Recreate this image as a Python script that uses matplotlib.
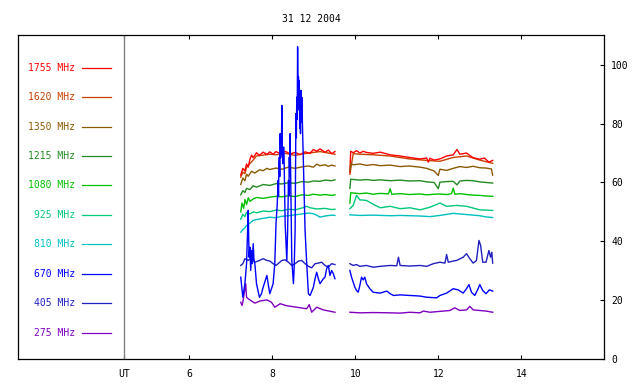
import numpy as np
import matplotlib
matplotlib.use('Agg')
import matplotlib.pyplot as plt

plt.rcParams['font.family'] = 'DejaVu Sans Mono'

nan = np.nan

# frequencies (legend order, top to bottom) and colours
freqs = ['1755', '1620', '1350', '1215', '1080', '925', '810', '670', '405', '275']
colors = ['#ff0000', '#c84000', '#8b5a00', '#228b22', '#00c000',
          '#00c87a', '#00c0c0', '#0000ff', '#2020c0', '#8000c0']
legend_y = [99, 89, 79, 69, 59, 49, 39, 29, 19, 9]

# time in UT hours, values in arbitrary flux units (gap at ~9.6-9.85)
t_1755 = [7.24, 7.29, 7.34, 7.38, 7.42, 7.46, 7.50, 7.54, 7.62, 7.69, 7.78, 7.87, 7.94, 8.02, 8.09,
          8.19, 8.31, 8.43, 8.55, 8.67, 8.79, 8.91, 8.99, 9.07, 9.15, 9.27, 9.35, 9.43, 9.51, nan,
          9.87, 9.89, 9.95, 10.03, 10.11, 10.19, 10.27, 10.43, 10.60, 10.84, 11.08, 11.30, 11.56, 11.72,
          11.76, 11.80, 11.90, 12.04, 12.20, 12.36, 12.45, 12.52, 12.68, 12.84, 13.00, 13.11, 13.22, 13.31]
v_1755 = [62.5, 64.8, 63.9, 66.3, 65.2, 67.8, 69.3, 68.4, 70.1, 69.2, 70.3, 69.5, 70.4, 69.6, 70.5,
          69.8, 70.6, 69.7, 70.2, 69.5, 70.4, 69.9, 71.2, 70.6, 71.4, 70.3, 71.0, 69.8, 70.5, nan,
          63.5, 70.6, 70.1, 70.8, 70.0, 70.6, 70.2, 69.9, 70.3, 69.4, 69.0, 68.5, 68.0, 68.3,
          66.9, 68.2, 67.6, 68.0, 69.0, 69.4, 71.2, 69.6, 70.0, 68.4, 67.9, 68.3, 66.9, 67.5]

t_1620 = [7.24, 7.29, 7.34, 7.38, 7.46, 7.54, 7.62, 7.78, 7.94, 8.09, 8.31, 8.55, 8.79, 8.99, 9.15,
          9.35, 9.51, nan,
          9.87, 9.95, 10.11, 10.43, 10.84, 11.30, 11.72, 12.04, 12.36, 12.68, 13.00, 13.31]
v_1620 = [61.8, 63.5, 63.0, 65.2, 66.4, 67.6, 69.0, 69.3, 69.6, 69.4, 69.9, 69.2, 69.8, 70.2, 70.5,
          70.0, 69.6, nan,
          62.8, 69.8, 69.6, 69.4, 69.0, 68.0, 67.5, 67.2, 68.5, 69.0, 67.6, 66.5]

t_1350 = [7.24, 7.29, 7.34, 7.38, 7.42, 7.50, 7.58, 7.69, 7.78, 7.87, 7.94, 8.09, 8.23, 8.39, 8.55,
          8.71, 8.87, 8.99, 9.07, 9.15, 9.27, 9.35, 9.43, 9.51, nan,
          9.87, 9.89, 9.95, 10.11, 10.27, 10.43, 10.60, 10.84, 11.08, 11.30, 11.56, 11.72, 11.90, 12.00,
          12.04, 12.20, 12.36, 12.52, 12.68, 12.84, 13.00, 13.15, 13.28, 13.31]
v_1350 = [59.3, 61.5, 60.6, 62.8, 62.1, 63.8, 63.2, 64.3, 64.0, 64.8, 64.4, 64.9, 64.5, 65.2, 64.8,
          65.3, 65.6, 65.2, 66.2, 65.7, 66.0, 65.5, 65.9, 65.6, nan,
          64.0, 66.4, 66.0, 66.3, 65.8, 66.1, 65.7, 65.9, 65.4, 65.6, 65.2, 64.8, 63.9, 62.4,
          64.5, 64.1, 64.8, 65.4, 65.1, 65.5, 65.0, 64.9, 64.6, 62.5]

t_1215 = [7.24, 7.29, 7.34, 7.38, 7.46, 7.54, 7.62, 7.78, 7.94, 8.09, 8.23, 8.39, 8.55, 8.71, 8.87,
          8.99, 9.15, 9.27, 9.43, 9.51, nan,
          9.87, 9.89, 10.11, 10.27, 10.43, 10.60, 10.84, 11.08, 11.30, 11.56, 11.72, 11.90, 12.00, 12.04,
          12.20, 12.36, 12.45, 12.52, 12.68, 12.84, 13.00, 13.15, 13.31]
v_1215 = [55.8, 57.2, 56.6, 58.0, 57.6, 58.9, 58.4, 59.3, 59.0, 59.6, 59.5, 59.9, 59.7, 60.3, 60.1,
          60.5, 60.4, 60.8, 60.6, 60.9, nan,
          58.0, 61.1, 60.8, 61.0, 60.7, 60.9, 60.6, 60.8, 60.5, 60.6, 60.2, 60.0, 57.9, 60.1,
          60.3, 60.4, 59.2, 60.5, 60.7, 60.6, 60.2, 60.0, 59.8]

t_1080 = [7.24, 7.27, 7.31, 7.34, 7.38, 7.42, 7.46, 7.54, 7.62, 7.78, 7.94, 8.09, 8.23, 8.39, 8.55,
          8.71, 8.87, 8.99, 9.15, 9.27, 9.43, 9.51, nan,
          9.87, 9.89, 10.11, 10.27, 10.43, 10.60, 10.80, 10.84, 10.88, 11.08, 11.30, 11.56, 11.72, 11.90,
          12.04, 12.20, 12.32, 12.36, 12.40, 12.52, 12.68, 12.84, 13.00, 13.15, 13.31]
v_1080 = [50.0, 53.0, 51.2, 54.2, 52.5, 54.8, 53.6, 54.4, 54.9, 54.6, 55.0, 55.3, 55.1, 55.5, 55.2,
          55.8, 55.6, 56.0, 55.7, 55.9, 55.6, 55.8, nan,
          53.0, 56.5, 56.2, 56.4, 56.0, 56.3, 56.1, 57.9, 56.0, 56.2, 55.9, 56.1, 55.8, 56.0,
          56.1, 55.9, 56.2, 58.1, 56.0, 56.2, 55.9, 55.7, 55.6, 55.4, 55.3]

t_925 = [7.24, 7.29, 7.34, 7.38, 7.46, 7.54, 7.62, 7.78, 7.94, 8.09, 8.23, 8.39, 8.55, 8.71, 8.83,
         8.91, 9.07, 9.27, 9.43, 9.51, nan,
         9.87, 9.95, 10.03, 10.11, 10.27, 10.43, 10.60, 10.84, 11.08, 11.32, 11.56, 11.80, 12.04, 12.20,
         12.44, 12.68, 13.00, 13.31]
v_925 = [47.5, 49.2, 48.4, 49.8, 49.3, 50.0, 49.7, 50.3, 50.1, 50.6, 50.4, 50.9, 50.7, 51.3, 51.9,
         51.4, 51.0, 51.2, 50.8, 50.9, nan,
         51.1, 52.2, 55.6, 54.1, 53.9, 52.6, 51.4, 51.9, 51.1, 51.4, 50.7, 51.6, 53.0, 51.9,
         52.2, 51.9, 50.7, 50.5]

t_810 = [7.24, 7.29, 7.34, 7.38, 7.46, 7.54, 7.62, 7.78, 7.94, 8.09, 8.23, 8.39, 8.55, 8.71, 8.87,
         8.99, 9.07, 9.15, 9.27, 9.43, 9.51, nan,
         9.87, 10.11, 10.43, 10.84, 11.08, 11.56, 11.80, 12.04, 12.36, 12.52, 12.68, 13.00, 13.15, 13.31]
v_810 = [43.1, 44.0, 44.6, 45.4, 46.2, 47.1, 47.4, 47.8, 48.2, 48.0, 48.5, 48.7, 49.0, 49.3, 49.6,
         49.4, 48.9, 48.2, 48.6, 48.9, 48.8, nan,
         49.0, 48.8, 48.9, 48.7, 48.8, 48.6, 48.4, 48.8, 49.5, 49.3, 49.1, 48.7, 48.3, 48.1]

t_670 = [7.24, 7.29, 7.34, 7.38, 7.40, 7.42, 7.44, 7.46, 7.48, 7.50, 7.52, 7.54, 7.56, 7.58, 7.62,
         7.69, 7.74, 7.78, 7.87, 7.90, 7.94, 8.02, 8.06, 8.09, 8.12, 8.14, 8.15, 8.16, 8.17, 8.18,
         8.19, 8.20, 8.21, 8.22, 8.23, 8.24, 8.25, 8.26, 8.28, 8.31, 8.35, 8.37, 8.39, 8.40, 8.41,
         8.42, 8.43, 8.45, 8.47, 8.51, 8.53, 8.55, 8.57, 8.58, 8.59, 8.60, 8.61, 8.62, 8.63, 8.64,
         8.65, 8.66, 8.67, 8.68, 8.69, 8.70, 8.71, 8.72, 8.73, 8.75, 8.77, 8.79, 8.83, 8.87, 8.91,
         8.99, 9.03, 9.07, 9.11, 9.15, 9.23, 9.27, 9.31, 9.35, 9.39, 9.43, 9.47, 9.51, nan,
         9.87, 9.91, 9.95, 9.99, 10.03, 10.07, 10.11, 10.15, 10.19, 10.23, 10.27, 10.35, 10.43, 10.60,
         10.76, 10.84, 10.92, 11.08, 11.32, 11.56, 11.72, 11.96, 12.04, 12.20, 12.36, 12.48, 12.60,
         12.68, 12.74, 12.80, 12.88, 12.96, 13.00, 13.07, 13.15, 13.23, 13.31]
v_670 = [27.8, 21.0, 25.6, 32.4, 41.4, 50.5, 34.6, 38.0, 30.1, 36.9, 32.4, 39.2, 33.5, 32.4, 25.6,
         21.0, 22.2, 24.4, 28.4, 25.6, 22.2, 25.6, 32.4, 46.0, 52.8, 60.7, 55.2, 66.0, 68.6, 62.0,
         76.6, 68.4, 74.3, 70.1, 86.2, 72.5, 66.4, 71.8, 72.0, 46.0, 33.5, 43.7, 60.7, 55.4, 68.6,
         62.3, 76.6, 55.0, 33.5, 25.6, 32.4, 43.7, 83.4, 75.2, 89.0, 81.5, 106.1, 90.2, 96.0, 84.7,
         94.7, 78.5, 82.2, 76.6, 91.3, 80.4, 89.0, 84.0, 77.7, 66.4, 55.0, 43.7, 32.4, 22.2, 21.6,
         24.4, 27.3, 29.5, 27.3, 25.6, 27.3, 27.8, 30.7, 31.8, 28.4, 30.1, 29.0, 27.3, nan,
         30.1, 27.8, 26.1, 24.4, 23.3, 22.7, 25.0, 27.8, 26.9, 27.8, 25.6, 23.9, 22.7, 22.4,
         23.1, 22.2, 21.6, 21.8, 21.6, 21.4, 21.0, 20.8, 21.6, 22.4, 23.9, 23.5, 22.4,
         23.9, 25.3, 22.7, 21.6, 23.9, 25.3, 23.3, 22.2, 23.5, 23.1]

t_405 = [7.24, 7.29, 7.34, 7.42, 7.50, 7.58, 7.69, 7.78, 7.87, 7.94, 8.02, 8.09, 8.14, 8.23, 8.31,
         8.39, 8.47, 8.55, 8.63, 8.71, 8.79, 8.87, 8.95, 9.03, 9.11, 9.19, 9.27, 9.35, 9.43, 9.51, nan,
         9.87, 9.95, 10.03, 10.11, 10.27, 10.43, 10.60, 10.84, 11.00, 11.04, 11.08, 11.32, 11.56, 11.72,
         11.88, 12.04, 12.16, 12.20, 12.24, 12.36, 12.44, 12.60, 12.68, 12.76, 12.84, 12.92, 12.98,
         13.02, 13.07, 13.15, 13.22, 13.26, 13.29, 13.31]
v_405 = [31.8, 32.4, 34.1, 33.5, 34.6, 32.9, 33.5, 34.1, 33.5, 33.3, 32.4, 31.8, 32.4, 33.5, 33.7,
         32.9, 31.8, 32.4, 33.3, 33.5, 32.4, 31.5, 31.0, 32.4, 32.6, 32.9, 31.8, 31.2, 32.4, 32.1, nan,
         32.4, 31.8, 32.1, 31.5, 31.8, 31.2, 31.5, 31.8, 31.7, 34.6, 31.8, 31.6, 31.8, 31.5,
         32.4, 32.9, 32.6, 35.5, 32.9, 33.3, 33.5, 34.6, 35.8, 34.1, 32.6, 33.5, 40.3,
         38.6, 32.9, 32.9, 36.9, 34.6, 36.3, 32.6]

t_275 = [7.24, 7.27, 7.29, 7.36, 7.38, 7.42, 7.50, 7.58, 7.70, 7.87, 7.98, 8.06, 8.19, 8.35, 8.59,
         8.83, 8.89, 8.95, 9.07, 9.23, 9.51, nan,
         9.87, 10.11, 10.43, 10.84, 11.08, 11.32, 11.56, 11.64, 11.80, 12.04, 12.28, 12.40, 12.52,
         12.68, 12.76, 12.84, 13.00, 13.15, 13.31]
v_275 = [19.3, 18.2, 19.3, 25.6, 21.0, 20.5, 19.7, 19.0, 19.7, 20.1, 19.3, 17.6, 18.8, 18.1, 17.6,
         17.1, 18.5, 15.9, 17.6, 16.7, 15.9, nan,
         15.9, 15.7, 15.8, 15.7, 15.6, 15.9, 15.7, 16.3, 15.9, 16.2, 16.5, 17.4, 16.5,
         16.7, 17.9, 16.7, 16.5, 16.3, 15.9]

series = {
    '1620': (t_1620, v_1620), '1755': (t_1755, v_1755), '1350': (t_1350, v_1350),
    '1215': (t_1215, v_1215), '1080': (t_1080, v_1080), '925': (t_925, v_925),
    '810': (t_810, v_810), '275': (t_275, v_275), '405': (t_405, v_405), '670': (t_670, v_670),
}

x_ticks = [4.43, 6, 8, 10, 12, 14]
x_labels = ['UT', '6', '8', '10', '12', '14']
y_ticks = [0, 20, 40, 60, 80, 100]

fig = plt.figure(figsize=(6.4, 3.84), dpi=100)
ax = fig.add_axes([0.0286, 0.065, 0.9156, 0.843])

for f, (t, v) in series.items():
    ax.plot(t, v, color=colors[freqs.index(f)], lw=1.0)

# left "legend" panel
ax.axvline(4.43, color='#808080', lw=1.0)
for f, c, y in zip(freqs, colors, legend_y):
    ax.text(0.0968, y, f + ' MHz', color=c, fontsize=7, ha='right', va='center',
            transform=ax.get_yaxis_transform())
    ax.plot([0.1087, 0.1577], [y, y], color=c, lw=0.9, transform=ax.get_yaxis_transform())

ax.set_xlim(1.88, 16.0)
ax.set_ylim(0, 110)
ax.set_xticks(x_ticks)
ax.set_xticklabels(x_labels)
ax.set_yticks(y_ticks)
ax.yaxis.tick_right()
ax.tick_params(axis='x', direction='in', length=3, width=0.8, labelsize=7, pad=7, top=True)
ax.tick_params(axis='y', direction='in', length=3, width=0.8, labelsize=7, pad=5,
               left=False, right=True)
for s in ax.spines.values():
    s.set_linewidth(0.9)

fig.text(0.486, 0.951, '31 12 2004', fontsize=7, ha='center', va='center')

fig.savefig('out.png', dpi=100)
